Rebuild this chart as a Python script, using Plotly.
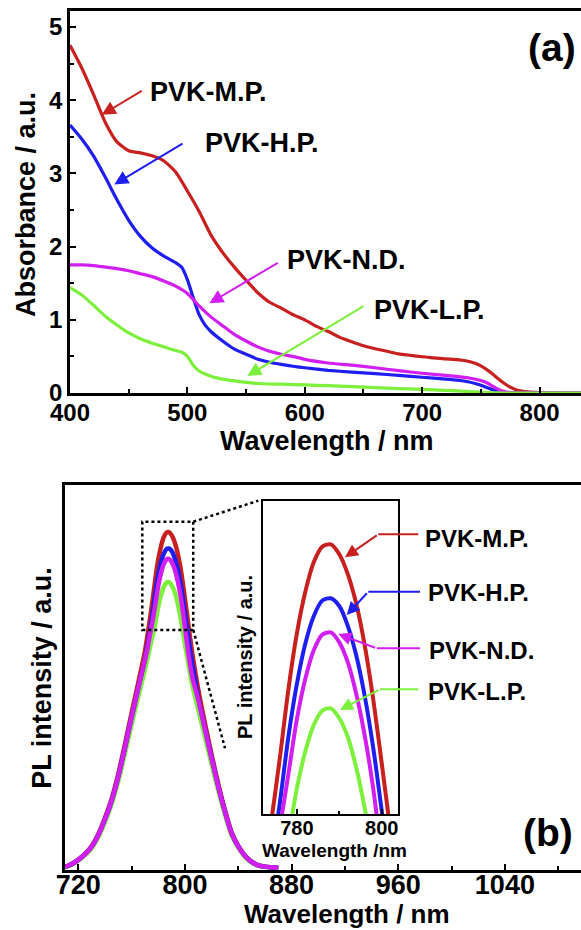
import plotly.graph_objects as go

# ---------------- Panel (a): absorbance ----------------
red_wl = [400,410,420,430,440,450,460,470,480,490,500,510,520,530,540,550,560,570,580,590,600,
          610,620,630,640,650,660,670,680,690,700,710,720,730,740,
          745,750,755,760,765,770,775,780,785,790,800,810,820,836]
red_abs = [4.75,4.44,4.08,3.70,3.43,3.31,3.28,3.24,3.17,3.02,2.76,2.48,2.16,1.92,1.72,1.54,1.37,1.24,1.16,1.07,1.00,
           0.91,0.84,0.76,0.70,0.645,0.605,0.57,0.535,0.515,0.495,0.48,0.465,0.455,0.43,
           0.405,0.37,0.32,0.26,0.19,0.13,0.08,0.045,0.025,0.015,0.006,0.003,0.002,0.0]

blue_wl = [400,410,420,430,440,450,460,470,480,490,495,500,505,510,515,520,530,540,550,560,570,580,590,600,
           620,640,660,680,700,720,730,740,745,750,755,760,765,770,780,800,836]
blue_abs = [3.66,3.47,3.24,2.95,2.64,2.36,2.14,1.98,1.87,1.78,1.72,1.55,1.30,1.07,0.93,0.84,0.71,0.60,0.53,0.46,0.42,0.39,0.365,0.345,
            0.31,0.285,0.265,0.24,0.215,0.19,0.175,0.15,0.13,0.105,0.075,0.045,0.02,0.008,0.002,0.0,0.0]

mag_wl = [400,410,420,430,440,450,460,470,480,490,500,510,520,530,540,550,560,570,580,590,600,
          620,640,660,680,700,720,740,750,755,760,765,770,775,780,800,836]
mag_abs = [1.75,1.75,1.74,1.72,1.70,1.67,1.63,1.59,1.53,1.46,1.36,1.19,1.04,0.92,0.80,0.71,0.63,0.57,0.53,0.50,0.46,
           0.41,0.38,0.345,0.305,0.27,0.24,0.205,0.17,0.14,0.095,0.05,0.02,0.007,0.002,0.0,0.0]

green_wl = [400,410,420,430,440,450,460,470,480,490,495,500,505,510,520,530,540,550,560,
            580,600,620,650,680,700,720,740,750,760,770,800,836]
green_abs = [1.44,1.34,1.20,1.05,0.93,0.82,0.74,0.68,0.63,0.58,0.56,0.50,0.38,0.30,0.23,0.19,0.165,0.145,0.13,
             0.12,0.11,0.10,0.08,0.06,0.05,0.035,0.02,0.008,0.002,0.0,0.0,0.0]

# ---------------- Panel (b): PL ----------------
pl_wl = [710,715,720,725,730,735,740,745,750,755,760,765,770,772,774,776,778,780,782,784,786,788,
         790,792,794,796,798,800,802,804,806,810,815,820,825,830,835,840,845,850,855,860,865,870]
pl_red = [0.003,0.012,0.025,0.042,0.065,0.101,0.149,0.206,0.28,0.369,0.462,0.552,0.645,0.695,0.748,0.805,0.867,0.918,0.956,0.983,0.997,0.999,
          0.99,0.972,0.945,0.907,0.858,0.80,0.74,0.68,0.625,0.53,0.43,0.337,0.25,0.172,0.106,0.066,0.037,0.019,0.008,0.004,0.002,0.0]
pl_blue = [0.003,0.011,0.024,0.041,0.063,0.098,0.145,0.20,0.272,0.358,0.449,0.536,0.622,0.665,0.712,0.764,0.824,0.872,0.909,0.934,0.948,0.950,
           0.943,0.925,0.898,0.861,0.814,0.757,0.70,0.645,0.595,0.505,0.415,0.327,0.243,0.168,0.103,0.064,0.036,0.018,0.008,0.004,0.002,0.0]
pl_mag = [0.003,0.011,0.024,0.041,0.063,0.098,0.145,0.20,0.272,0.358,0.449,0.536,0.62,0.655,0.70,0.742,0.79,0.84,0.877,0.903,0.917,0.919,
          0.91,0.892,0.863,0.825,0.777,0.715,0.655,0.60,0.56,0.50,0.413,0.325,0.242,0.167,0.103,0.064,0.036,0.018,0.008,0.004,0.002,0.0]
pl_green = [0.002,0.010,0.022,0.038,0.059,0.092,0.137,0.19,0.259,0.341,0.427,0.51,0.59,0.625,0.66,0.695,0.733,0.777,0.811,0.835,0.848,0.85,
            0.841,0.824,0.796,0.759,0.713,0.665,0.62,0.575,0.535,0.47,0.39,0.308,0.23,0.158,0.097,0.06,0.033,0.016,0.007,0.003,0.001,0.0]

labels = ["PVK-M.P.", "PVK-H.P.", "PVK-N.D.", "PVK-L.P."]
RED, BLUE, MAG, GREEN = "#C8201E", "#1E1EF0", "#D21EF0", "#7CF03C"
FONT = "Liberation Sans, Arial, sans-serif"

W, H = 581, 930
def px(x):
    return x / W
def py(y):
    return 1 - y / H

fig = go.Figure()

abs_series = [(red_wl, red_abs, RED), (blue_wl, blue_abs, BLUE), (mag_wl, mag_abs, MAG), (green_wl, green_abs, GREEN)]
for (wl, ab, c), name in zip(abs_series, labels):
    fig.add_trace(go.Scatter(x=wl, y=ab, mode="lines", name=name, xaxis="x", yaxis="y",
                             line=dict(color=c, width=3.2, shape="spline", smoothing=0.6)))

pl_series = [(pl_green, GREEN, labels[3]), (pl_red, RED, labels[0]), (pl_blue, BLUE, labels[1]), (pl_mag, MAG, labels[2])]
for vals, c, name in pl_series:
    fig.add_trace(go.Scatter(x=pl_wl, y=vals, mode="lines", name=name, xaxis="x2", yaxis="y2",
                             line=dict(color=c, width=4.5, shape="spline", smoothing=0.6)))
for vals, c, name in pl_series:
    fig.add_trace(go.Scatter(x=pl_wl, y=vals, mode="lines", name=name, xaxis="x3", yaxis="y3",
                             line=dict(color=c, width=4, shape="spline", smoothing=0.8)))

tick_common = dict(showline=True, linecolor="black", linewidth=2.5, ticks="inside", tickcolor="black",
                   tickwidth=2, showgrid=False, zeroline=False, automargin=False)

fig.update_layout(
    template="none",
    width=W, height=H, autosize=False, margin=dict(l=0, r=0, t=0, b=0, pad=0),
    paper_bgcolor="white", plot_bgcolor="white", showlegend=False,
    xaxis=dict(domain=[px(70), 1], range=[400, 835.3], anchor="y", mirror=True, ticklen=6,
               tick0=400, dtick=100, ticklabelstandoff=-4,
               minor=dict(ticks="inside", ticklen=4, tickwidth=2, dtick=50, tickcolor="black"),
               tickfont=dict(family=FONT, size=24, color="black", weight="bold"), **tick_common),
    yaxis=dict(domain=[py(393), py(11)], range=[0, 5.219], anchor="x", ticklen=6,
               tick0=0, dtick=1, minor=dict(ticks="inside", ticklen=4, tickwidth=2, dtick=0.5, tickcolor="black"),
               tickfont=dict(family=FONT, size=24, color="black", weight="bold"), **tick_common),
    xaxis2=dict(domain=[px(65), 1], range=[710.0, 1097.1], anchor="y2", mirror=True, ticklen=6,
                tick0=720, dtick=80, ticklabelstandoff=-11,
                minor=dict(ticks="inside", ticklen=4, tickwidth=2, dtick=40, tickcolor="black"),
                tickfont=dict(family=FONT, size=27, color="black", weight="bold"), **tick_common),
    yaxis2=dict(domain=[py(870), py(485)], range=[-0.006, 1.139], anchor="x2", showticklabels=False,
                showline=True, linecolor="black", linewidth=2.5, ticks="", showgrid=False, zeroline=False,
                automargin=False),
    xaxis3=dict(domain=[px(263.3), px(398.3)], range=[772.1, 803.9], anchor="y3", mirror=True, ticklen=5,
                tick0=780, dtick=20, ticklabelstandoff=-5,
                minor=dict(ticks="inside", ticklen=3, tickwidth=1.5, dtick=10, tickcolor="black"),
                tickfont=dict(family=FONT, size=20, color="black", weight="bold"),
                showline=True, linecolor="black", linewidth=2, ticks="inside", tickcolor="black",
                tickwidth=1.5, showgrid=False, zeroline=False, automargin=False),
    yaxis3=dict(domain=[py(814), py(500.7)], range=[0.754, 1.0387], anchor="x3", mirror=True,
                showticklabels=False, showline=True, linecolor="black", linewidth=2, ticks="",
                showgrid=False, zeroline=False, automargin=False),
)

def bold(size):
    return dict(family=FONT, size=size, color="black", weight="bold")

ann = []
# axis titles
ann.append(dict(text="Absorbance / a.u.", x=px(26), y=py(205), textangle=-90, font=bold(27)))
ann.append(dict(text="Wavelength / nm", x=px(327), y=py(441), font=bold(27)))
ann.append(dict(text="PL intensity / a.u.", x=px(41.7), y=py(678), textangle=-90, font=bold(27)))
ann.append(dict(text="Wavelength / nm", x=px(347), y=py(914), font=bold(26)))
ann.append(dict(text="PL intensity / a.u.", x=px(245), y=py(657), textangle=-90, font=bold(20)))
ann.append(dict(text="Wavelength /nm", x=px(334.7), y=py(850), font=bold(19)))
ann.append(dict(text="(a)", x=px(551.7), y=py(47), font=bold(39)))
ann.append(dict(text="(b)", x=px(547.5), y=py(832), font=bold(39)))
for a in ann:
    a.update(xref="paper", yref="paper", showarrow=False, xanchor="center", yanchor="middle")

# panel (a) labels
a_labels = [(labels[0], 148.3, 92), (labels[1], 202.7, 143), (labels[2], 285, 260), (labels[3], 371.7, 310)]
for t, x, y in a_labels:
    ann.append(dict(text=t, x=px(x), y=py(y), xref="paper", yref="paper", showarrow=False,
                    xanchor="left", yanchor="middle", font=bold(27)))

# panel (a) arrows (head, tail) in data coordinates
a_arrows = [((427.0, 3.80), (462.4, 4.14), RED), ((437.7, 2.85), (497.1, 3.42), BLUE),
            ((518.7, 1.225), (578.3, 1.79), MAG), ((551.0, 0.232), (651.3, 1.20), GREEN)]
for (hx, hy), (tx, ty), c in a_arrows:
    ann.append(dict(x=hx, y=hy, ax=tx, ay=ty, xref="x", yref="y", axref="x", ayref="y", text="",
                    showarrow=True, arrowhead=2, arrowsize=1.4, arrowwidth=2, arrowcolor=c, standoff=0))

# panel (b) labels
b_labels = [(labels[0], 423.3, 538), (labels[1], 425.7, 592), (labels[2], 426.7, 650), (labels[3], 425.7, 691)]
for t, x, y in b_labels:
    ann.append(dict(text=t, x=px(x), y=py(y), xref="paper", yref="paper", showarrow=False,
                    xanchor="left", yanchor="middle", font=bold(24)))

# panel (b) elbow arrows: head, elbow, label end (pixels)
b_arrows = [((345, 557.3), (378.3, 534.3), 418.3, RED), ((346.7, 615), (368.3, 591.7), 420, BLUE),
            ((338.3, 634), (376.7, 648.3), 420, MAG), ((340, 710), (380, 689.3), 418.3, GREEN)]
shapes = []
for (hx, hy), (ex, ey), endx, c in b_arrows:
    ann.append(dict(x=px(hx), y=py(hy), ax=ex - hx, ay=ey - hy, xref="paper", yref="paper", text="",
                    showarrow=True, arrowhead=2, arrowsize=1.3, arrowwidth=2, arrowcolor=c, standoff=0))
    shapes.append(dict(type="line", xref="paper", yref="paper", x0=px(ex), y0=py(ey), x1=px(endx), y1=py(ey),
                       line=dict(color=c, width=2)))

# dotted zoom box and connectors
shapes.append(dict(type="rect", xref="x2", yref="y2", x0=768, x1=806.2, y0=0.708, y1=1.03,
                   line=dict(color="black", width=2.5, dash="dot")))
shapes.append(dict(type="line", xref="paper", yref="paper", x0=px(193.3), y0=py(521.7), x1=px(258.3), y1=py(500.7),
                   line=dict(color="black", width=2.5, dash="dot")))
shapes.append(dict(type="line", xref="paper", yref="paper", x0=px(193.3), y0=py(630), x1=px(225), y1=py(748.3),
                   line=dict(color="black", width=2.5, dash="dot")))

fig.update_layout(annotations=ann, shapes=shapes)
fig.write_html("out.html")
